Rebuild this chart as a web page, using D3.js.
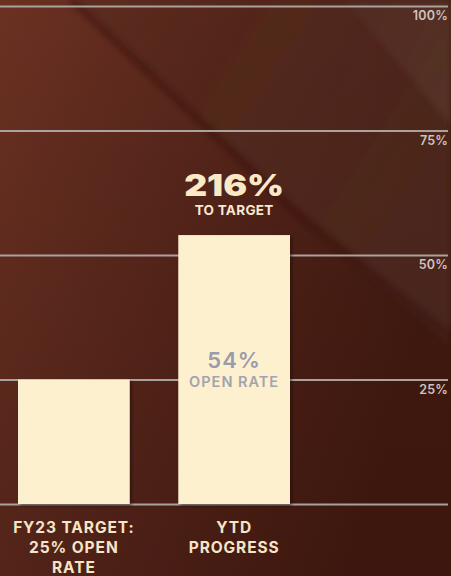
<!DOCTYPE html>
<html>
<head>
<meta charset="utf-8">
<script src="https://cdn.jsdelivr.net/npm/d3@7"></script>
<style>
  html, body { margin: 0; padding: 0; background: #4a1f14; }
  svg { display: block; }
</style>
</head>
<body>
<svg id="chart" width="451" height="576"></svg>
<script>
// Open-rate progress: FY23 target vs. year-to-date
const categories = ["FY23 TARGET:\n25% OPEN\nRATE", "YTD\nPROGRESS"];
const openRates = [25, 54];
const tickValues = [0, 25, 50, 75, 100];
const tickLabels = ["", "25%", "50%", "75%", "100%"];
const headline = "216%";
const headlineSub = "TO TARGET";
const barValueSub = "OPEN RATE";

const W = 451, H = 576;
const font = "Inter, 'Open Sans', sans-serif";
const svg = d3.select("#chart");
const defs = svg.append("defs");

// ---- background: warm brown with diagonal light panels ----
const base = defs.append("linearGradient").attr("id", "bgBase")
  .attr("x1", "0").attr("y1", "0").attr("x2", "1").attr("y2", "0.35");
base.append("stop").attr("offset", "0").attr("stop-color", "#6b3122");
base.append("stop").attr("offset", "0.5").attr("stop-color", "#56251a");
base.append("stop").attr("offset", "1").attr("stop-color", "#431a10");

const vshade = defs.append("linearGradient").attr("id", "bgV")
  .attr("x1", "0").attr("y1", "0").attr("x2", "0").attr("y2", "1");
vshade.append("stop").attr("offset", "0").attr("stop-color", "#000").attr("stop-opacity", 0);
vshade.append("stop").attr("offset", "1").attr("stop-color", "#1a0500").attr("stop-opacity", 0.15);

const panel = defs.append("linearGradient").attr("id", "panel")
  .attr("x1", "0").attr("y1", "0").attr("x2", "1").attr("y2", "0.6");
panel.append("stop").attr("offset", "0").attr("stop-color", "#4d2519").attr("stop-opacity", 0.35);
panel.append("stop").attr("offset", "1").attr("stop-color", "#553428").attr("stop-opacity", 0.5);

const wedge = defs.append("linearGradient").attr("id", "wedge")
  .attr("x1", "0").attr("y1", "0").attr("x2", "1").attr("y2", "0.5");
wedge.append("stop").attr("offset", "0").attr("stop-color", "#5e4035").attr("stop-opacity", 0.2);
wedge.append("stop").attr("offset", "1").attr("stop-color", "#634639").attr("stop-opacity", 0.35);

defs.append("filter").attr("id", "soft").attr("x", "-20%").attr("y", "-20%")
  .attr("width", "140%").attr("height", "140%")
  .append("feGaussianBlur").attr("stdDeviation", 3);

const shadow = defs.append("filter").attr("id", "barShadow")
  .attr("x", "-10%").attr("y", "-10%").attr("width", "130%").attr("height", "130%");
shadow.append("feDropShadow").attr("dx", 2).attr("dy", 2).attr("stdDeviation", 1.5)
  .attr("flood-color", "#1a0600").attr("flood-opacity", 0.45);

const bg = svg.append("g");
bg.append("rect").attr("width", W).attr("height", H).attr("fill", "url(#bgBase)");
bg.append("rect").attr("width", W).attr("height", H).attr("fill", "url(#bgV)");
// panel above the diagonal fold
bg.append("path")
  .attr("d", "M72,0 L" + W + ",0 L" + W + ",345 L300,215 Z")
  .attr("fill", "url(#panel)").attr("filter", "url(#soft)");
// dark fold along the diagonal
bg.append("path")
  .attr("d", "M72,0 L300,215 L" + (W + 10) + ",345")
  .attr("fill", "none").attr("stroke", "#2c0f07").attr("stroke-opacity", 0.35)
  .attr("stroke-width", 7).attr("filter", "url(#soft)");
// light wedge at top right
bg.append("path")
  .attr("d", "M345,0 L" + W + ",0 L" + W + ",125 Z")
  .attr("fill", "url(#wedge)").attr("filter", "url(#soft)");

// ---- scales ----
const y = d3.scaleLinear().domain([0, 100]).range([504, 6]);
const x = d3.scaleBand().domain(categories).range([18, 290])
  .paddingInner(0.303).paddingOuter(0);

// ---- gridlines with right-hand labels ----
const gridAxis = d3.axisLeft(y)
  .tickValues(tickValues)
  .tickSize(448)
  .tickFormat((d, i) => tickLabels[i]);

const grid = svg.append("g")
  .attr("transform", "translate(448,0)")
  .call(gridAxis);
grid.select(".domain").remove();
grid.selectAll(".tick line")
  .attr("stroke", "#aaa29e").attr("stroke-width", 2.2);
grid.selectAll(".tick text")
  .attr("x", 0).attr("dy", 13.5)
  .attr("text-anchor", "end")
  .attr("fill", "#d0c3be")
  .attr("font-family", font)
  .attr("font-weight", 600)
  .attr("font-size", 12.5)
  .attr("letter-spacing", 0.2);

// ---- bars ----
svg.append("g").selectAll("rect")
  .data(categories)
  .join("rect")
  .attr("x", d => x(d))
  .attr("width", x.bandwidth())
  .attr("y", (d, i) => y(openRates[i]))
  .attr("height", (d, i) => y(0) - y(openRates[i]))
  .attr("fill", "#fdf0cf")
  .attr("filter", "url(#barShadow)");

// ---- category labels ----
svg.append("g").selectAll("text")
  .data(categories)
  .join("text")
  .attr("text-anchor", "middle")
  .attr("fill", "#f6e5c6")
  .attr("font-family", font)
  .attr("font-weight", 700)
  .attr("font-size", 15.5)
  .attr("letter-spacing", 0.9)
  .each(function (d) {
    const t = d3.select(this);
    d.split("\n").forEach((line, k) => {
      t.append("tspan")
        .attr("x", x(d) + x.bandwidth() / 2)
        .attr("y", 533 + k * 20)
        .text(line);
    });
  });

// ---- value annotations on the YTD bar ----
const ytd = categories[1];
const cx = x(ytd) + x.bandwidth() / 2;
const topY = y(openRates[1]);

svg.append("text")
  .attr("x", cx).attr("y", topY - 39)
  .attr("text-anchor", "middle")
  .attr("fill", "#fbe8c4")
  .attr("font-family", font)
  .attr("font-weight", 900)
  .attr("font-size", 30)
  .attr("textLength", 100)
  .attr("lengthAdjust", "spacingAndGlyphs")
  .text(headline);

svg.append("text")
  .attr("x", cx).attr("y", topY - 20)
  .attr("text-anchor", "middle")
  .attr("fill", "#f8e8cf")
  .attr("font-family", font)
  .attr("font-weight", 700)
  .attr("font-size", 13.5)
  .attr("letter-spacing", 0.3)
  .text(headlineSub);

svg.append("text")
  .attr("x", cx).attr("y", 368)
  .attr("text-anchor", "middle")
  .attr("fill", "#9a9cab")
  .attr("font-family", font)
  .attr("font-weight", 600)
  .attr("font-size", 22)
  .attr("letter-spacing", 1)
  .text(openRates[1] + "%");

svg.append("text")
  .attr("x", cx).attr("y", 387)
  .attr("text-anchor", "middle")
  .attr("fill", "#a3a3ae")
  .attr("font-family", font)
  .attr("font-weight", 600)
  .attr("font-size", 14.5)
  .attr("letter-spacing", 1)
  .text(barValueSub);
</script>
</body>
</html>
